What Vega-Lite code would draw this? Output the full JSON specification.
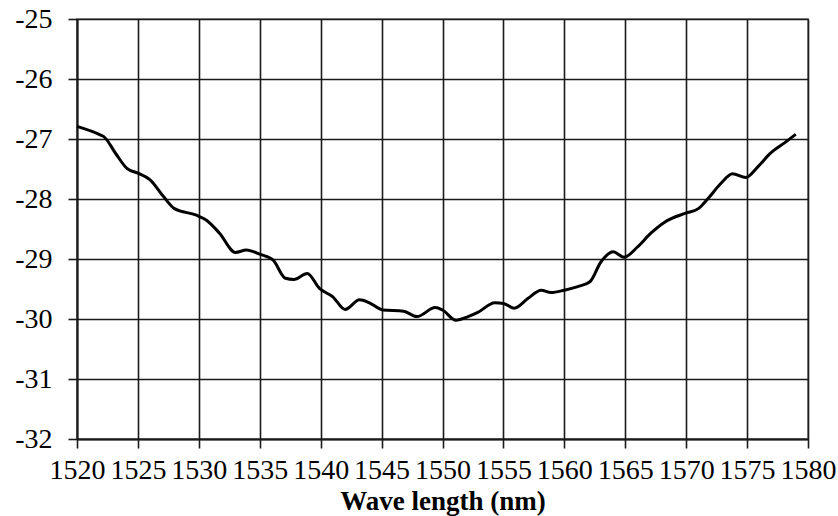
{
  "$schema": "https://vega.github.io/schema/vega-lite/v6.json",
  "autosize": "none",
  "width": 731,
  "height": 420,
  "padding": {"left": 77, "top": 19, "right": 30, "bottom": 77},
  "background": "white",
  "config": {
    "view": {"stroke": "#999999", "strokeWidth": 2},
    "axis": {
      "labelFont": "Liberation Serif",
      "titleFont": "Liberation Serif",
      "labelColor": "#000000",
      "titleColor": "#000000",
      "gridColor": "#1a1a1a",
      "gridWidth": 1.6,
      "gridOpacity": 1,
      "domainColor": "#1a1a1a",
      "domainWidth": 2,
      "tickColor": "#1a1a1a",
      "tickWidth": 1.6,
      "tickSize": 9
    }
  },
  "data": {
    "values": [
      {"wl": 1520.0, "v": -26.79},
      {"wl": 1521.9, "v": -26.93},
      {"wl": 1522.2, "v": -26.96},
      {"wl": 1523.2, "v": -27.25},
      {"wl": 1524.1, "v": -27.49},
      {"wl": 1525.0, "v": -27.57},
      {"wl": 1526.0, "v": -27.68},
      {"wl": 1527.1, "v": -27.96},
      {"wl": 1528.0, "v": -28.16},
      {"wl": 1529.8, "v": -28.27},
      {"wl": 1530.6, "v": -28.35},
      {"wl": 1531.7, "v": -28.57},
      {"wl": 1533.0, "v": -28.89},
      {"wl": 1533.9, "v": -28.85},
      {"wl": 1535.0, "v": -28.92},
      {"wl": 1536.1, "v": -29.02},
      {"wl": 1537.1, "v": -29.32},
      {"wl": 1537.8, "v": -29.34},
      {"wl": 1538.9, "v": -29.24},
      {"wl": 1539.9, "v": -29.49},
      {"wl": 1541.0, "v": -29.63},
      {"wl": 1542.0, "v": -29.84},
      {"wl": 1543.2, "v": -29.68},
      {"wl": 1544.0, "v": -29.73},
      {"wl": 1545.1, "v": -29.85},
      {"wl": 1546.8, "v": -29.87},
      {"wl": 1547.9, "v": -29.96},
      {"wl": 1549.4, "v": -29.81},
      {"wl": 1550.0, "v": -29.85},
      {"wl": 1551.1, "v": -30.02},
      {"wl": 1552.1, "v": -29.96},
      {"wl": 1552.9, "v": -29.89},
      {"wl": 1554.3, "v": -29.73},
      {"wl": 1555.0, "v": -29.74},
      {"wl": 1555.9, "v": -29.82},
      {"wl": 1557.0, "v": -29.66},
      {"wl": 1558.1, "v": -29.52},
      {"wl": 1558.9, "v": -29.56},
      {"wl": 1560.0, "v": -29.52},
      {"wl": 1561.1, "v": -29.46},
      {"wl": 1562.1, "v": -29.38},
      {"wl": 1563.0, "v": -29.05},
      {"wl": 1564.0, "v": -28.88},
      {"wl": 1564.9, "v": -28.97},
      {"wl": 1566.0, "v": -28.8},
      {"wl": 1567.1, "v": -28.57},
      {"wl": 1568.2, "v": -28.39},
      {"wl": 1569.9, "v": -28.24},
      {"wl": 1571.0, "v": -28.16},
      {"wl": 1571.8, "v": -27.99},
      {"wl": 1572.9, "v": -27.73},
      {"wl": 1573.8, "v": -27.58},
      {"wl": 1574.9, "v": -27.64},
      {"wl": 1575.9, "v": -27.46},
      {"wl": 1576.9, "v": -27.24},
      {"wl": 1578.1, "v": -27.06},
      {"wl": 1579.0, "v": -26.92}
    ]
  },
  "mark": {"type": "line", "color": "#000000", "strokeWidth": 3, "interpolate": "monotone"},
  "encoding": {
    "x": {
      "field": "wl",
      "type": "quantitative",
      "scale": {"domain": [1520, 1580], "nice": false, "zero": false},
      "axis": {
        "values": [1520, 1525, 1530, 1535, 1540, 1545, 1550, 1555, 1560, 1565, 1570, 1575, 1580],
        "labelExpr": "toString(datum.value)",
        "labelFontSize": 28,
        "labelPadding": 8,
        "labelOverlap": false,
        "labelFlush": false,
        "title": "Wave length (nm)",
        "titleFontSize": 27,
        "titleFontWeight": "bold",
        "titlePadding": 4
      }
    },
    "y": {
      "field": "v",
      "type": "quantitative",
      "scale": {"domain": [-32, -25], "nice": false, "zero": false},
      "axis": {
        "values": [-32, -31, -30, -29, -28, -27, -26, -25],
        "labelExpr": "toString(datum.value)",
        "labelFontSize": 28,
        "labelPadding": 16,
        "labelOverlap": false,
        "labelFlush": false,
        "title": null
      }
    }
  }
}
